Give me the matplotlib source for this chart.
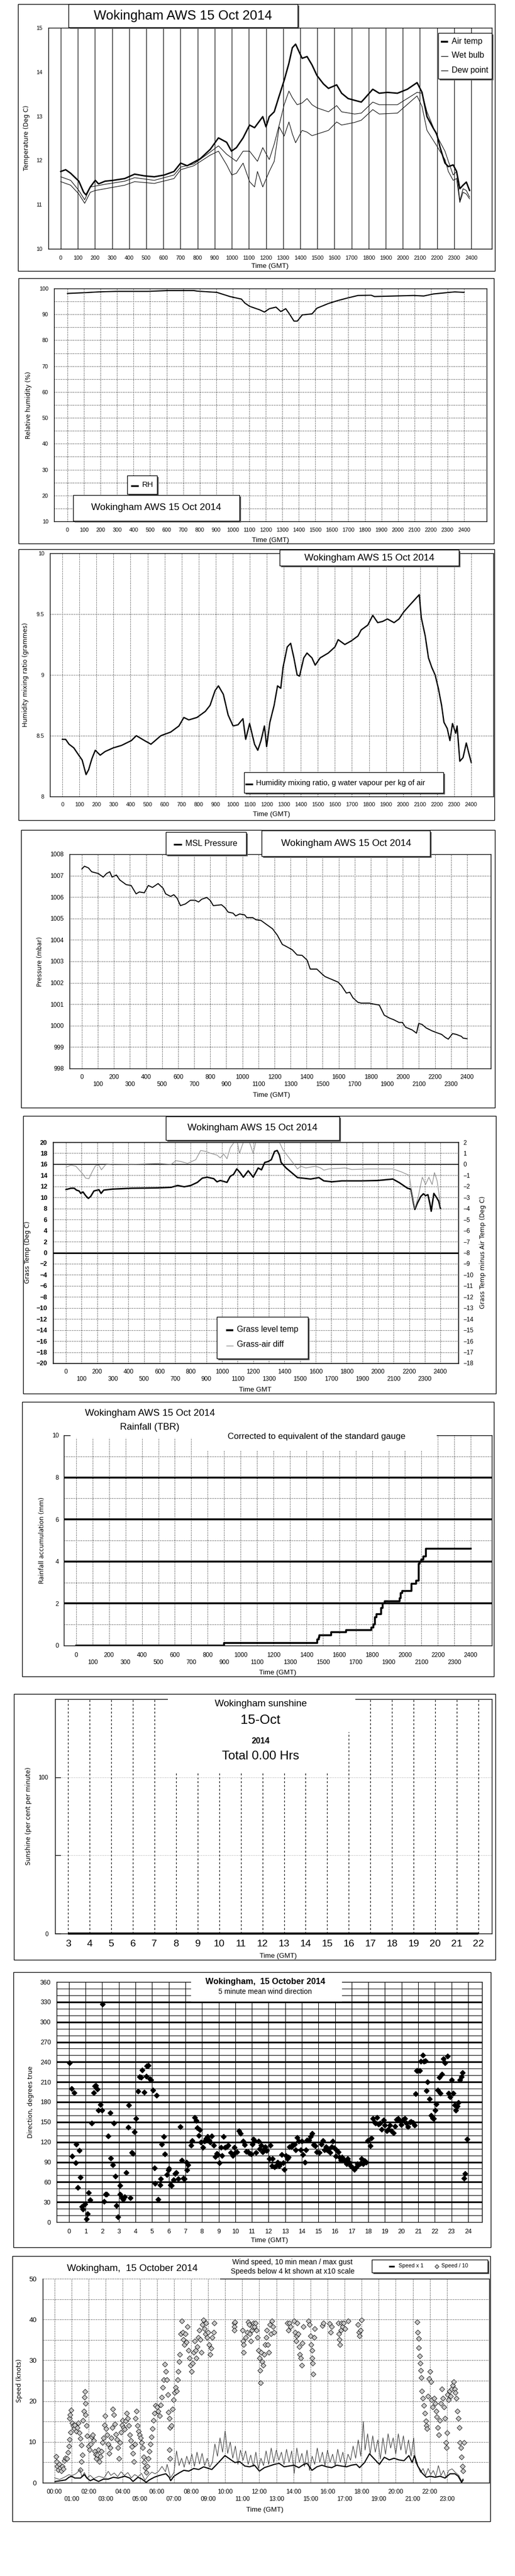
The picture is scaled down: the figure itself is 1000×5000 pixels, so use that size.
import matplotlib
matplotlib.use('Agg')
import matplotlib.pyplot as plt
from matplotlib.patches import Rectangle
from matplotlib.lines import Line2D

plt.rcParams['font.family'] = 'Liberation Sans'
plt.rcParams['axes.linewidth'] = 1.0

# ---------------- data ----------------
# panel 1 : temperatures (time in hhmm-like units 0..2400)
air_time = [0, 29, 58, 106, 134, 148, 173, 202, 221, 259, 307, 374, 432, 490, 547, 605, 662, 701, 739, 778,
            816, 874, 922, 970, 998, 1027, 1066, 1104, 1133, 1181, 1200, 1219, 1248, 1277, 1306, 1334, 1354, 1373, 1392, 1411,
            1440, 1469, 1498, 1536, 1565, 1613, 1642, 1680, 1718, 1757, 1776, 1824, 1862, 1910, 1968, 2026, 2083, 2112, 2141, 2179,
            2198, 2218, 2246, 2266, 2294, 2314, 2333, 2352, 2371, 2390]
air_temp = [11.75, 11.79, 11.71, 11.53, 11.28, 11.22, 11.4, 11.55, 11.47, 11.53, 11.55, 11.59, 11.69, 11.65, 11.63, 11.67, 11.75, 11.94, 11.88, 11.96,
            12.04, 12.25, 12.51, 12.41, 12.21, 12.29, 12.51, 12.8, 12.74, 12.99, 12.76, 12.99, 13.1, 13.46, 13.81, 14.2, 14.55, 14.63, 14.47, 14.31,
            14.35, 14.16, 13.92, 13.73, 13.63, 13.71, 13.52, 13.4, 13.36, 13.32, 13.4, 13.61, 13.52, 13.54, 13.52, 13.61, 13.76, 13.54, 12.99, 12.72,
            12.6, 12.29, 11.94, 11.86, 11.9, 11.75, 11.36, 11.44, 11.51, 11.32]
wet_time = [0, 58, 106, 140, 173, 202, 259, 374, 432, 547, 662, 701, 778, 874, 922, 970, 1027, 1066, 1104, 1150,
            1181, 1219, 1248, 1277, 1306, 1334, 1354, 1382, 1411, 1440, 1469, 1498, 1565, 1613, 1642, 1718, 1757, 1824, 1862, 1968,
            2083, 2112, 2141, 2198, 2246, 2266, 2294, 2314, 2333, 2352, 2371, 2390]
wet_temp = [11.63, 11.55, 11.32, 11.11, 11.4, 11.42, 11.46, 11.53, 11.61, 11.55, 11.67, 11.85, 11.92, 12.19, 12.33, 12.14, 11.98, 12.21, 12.21, 11.98,
            12.29, 12.02, 12.37, 12.8, 13.26, 13.57, 13.42, 13.26, 13.3, 13.4, 13.26, 13.19, 13.1, 13.24, 13.1, 13.05, 13.07, 13.32, 13.26, 13.26,
            13.54, 13.52, 13.1, 12.56, 12.21, 11.98, 11.67, 11.75, 11.09, 11.36, 11.32, 11.17]
dew_time = [0, 58, 106, 140, 173, 202, 259, 374, 432, 547, 662, 701, 778, 874, 922, 970, 1000, 1027, 1066, 1104,
            1133, 1150, 1181, 1219, 1248, 1277, 1306, 1334, 1354, 1373, 1411, 1440, 1469, 1565, 1613, 1642, 1718, 1757, 1824, 1862,
            1968, 2083, 2112, 2141, 2198, 2246, 2266, 2294, 2314, 2333, 2352, 2371, 2390]
dew_temp = [11.52, 11.44, 11.24, 11.03, 11.28, 11.32, 11.36, 11.44, 11.52, 11.48, 11.59, 11.79, 11.88, 12.12, 12.21, 11.9, 11.67, 11.71, 11.94, 11.52,
            11.4, 11.75, 11.4, 11.75, 11.98, 12.76, 12.55, 12.87, 12.6, 12.4, 12.68, 12.64, 12.56, 12.68, 12.87, 12.8, 12.86, 12.91, 13.15, 13.05,
            13.07, 13.46, 13.22, 12.68, 12.33, 12.02, 11.75, 11.55, 11.59, 11.05, 11.28, 11.24, 11.13]

# panel 2 : relative humidity
rh_time = [0, 109, 189, 298, 487, 606, 765, 785, 904, 944, 983, 1053, 1073, 1103, 1162, 1192, 1222, 1262, 1291, 1321,
           1341, 1371, 1391, 1421, 1480, 1510, 1579, 1639, 1699, 1758, 1838, 1858, 1977, 2096, 2156, 2215, 2295, 2344, 2400]
rh = [98.1, 98.4, 98.7, 98.9, 98.9, 99.2, 99.2, 99.0, 98.5, 97.7, 96.9, 95.9, 94.4, 93.1, 91.8, 90.9, 92.2, 92.8, 91.1, 92.2,
      90.4, 87.4, 87.4, 89.8, 90.2, 92.4, 94.2, 95.4, 96.4, 97.3, 97.4, 96.9, 97.1, 97.3, 97.1, 97.9, 98.4, 98.7, 98.5]

# panel 3 : humidity mixing ratio
mix_time = [0, 19, 39, 67, 96, 116, 139, 154, 173, 193, 222, 251, 299, 347, 405, 434, 482, 520, 578, 636,
            684, 713, 742, 790, 839, 867, 896, 916, 945, 973, 1002, 1031, 1060, 1076, 1099, 1128, 1147, 1166, 1186, 1199,
            1218, 1243, 1263, 1282, 1295, 1320, 1340, 1359, 1378, 1392, 1417, 1436, 1465, 1484, 1513, 1561, 1600, 1619, 1658, 1696,
            1735, 1754, 1793, 1822, 1851, 1880, 1908, 1947, 1976, 2005, 2043, 2082, 2095, 2107, 2130, 2149, 2169, 2188, 2207, 2226,
            2240, 2259, 2275, 2290, 2309, 2317, 2333, 2352, 2371, 2387, 2400]
mix = [8.47, 8.47, 8.43, 8.40, 8.34, 8.30, 8.18, 8.22, 8.31, 8.38, 8.34, 8.37, 8.40, 8.42, 8.46, 8.50, 8.46, 8.43, 8.50, 8.53,
       8.58, 8.65, 8.63, 8.65, 8.70, 8.75, 8.87, 8.91, 8.84, 8.67, 8.58, 8.59, 8.64, 8.47, 8.60, 8.43, 8.38, 8.46, 8.58, 8.41,
       8.61, 8.75, 8.91, 8.89, 9.06, 9.23, 9.26, 9.14, 9.00, 8.99, 9.14, 9.18, 9.14, 9.08, 9.14, 9.18, 9.23, 9.29, 9.25, 9.28,
       9.32, 9.37, 9.41, 9.49, 9.43, 9.44, 9.46, 9.43, 9.46, 9.52, 9.58, 9.64, 9.66, 9.47, 9.32, 9.14, 9.06, 9.00, 8.89, 8.75,
       8.61, 8.56, 8.46, 8.60, 8.52, 8.58, 8.29, 8.32, 8.44, 8.35, 8.28]

# panel 4 : MSL pressure
pres_time = [0, 16, 41, 61, 102, 133, 154, 174, 188, 215, 236, 276, 307, 338, 358, 389, 414, 440, 475, 506,
             522, 553, 573, 594, 614, 645, 676, 706, 727, 747, 778, 799, 819, 870, 891, 911, 942, 958, 983, 1014,
             1028, 1065, 1085, 1116, 1147, 1188, 1218, 1249, 1270, 1311, 1341, 1372, 1403, 1423, 1464, 1495, 1515, 1556, 1597, 1618,
             1648, 1669, 1689, 1720, 1741, 1792, 1823, 1853, 1884, 1915, 1945, 1976, 1997, 2017, 2058, 2085, 2099, 2119, 2146, 2181,
             2212, 2242, 2263, 2283, 2310, 2334, 2365, 2375, 2400]
pres = [1007.31, 1007.44, 1007.36, 1007.18, 1007.10, 1006.93, 1007.10, 1007.18, 1006.93, 1007.03,
        1006.80, 1006.58, 1006.54, 1006.15, 1006.24, 1006.20, 1006.54, 1006.45, 1006.63, 1006.41,
        1006.15, 1006.03, 1006.11, 1005.94, 1005.60, 1005.68, 1005.85, 1005.85, 1005.77, 1005.90,
        1005.98, 1005.85, 1005.60, 1005.64, 1005.51, 1005.30, 1005.25, 1005.12, 1005.21, 1005.17,
        1005.04, 1005.04, 1004.94, 1004.91, 1004.74, 1004.52, 1004.22, 1003.79, 1003.71, 1003.54,
        1003.30, 1003.28, 1003.06, 1002.64, 1002.64, 1002.42, 1002.29, 1002.16, 1002.03, 1001.86,
        1001.52, 1001.56, 1001.30, 1001.09, 1001.05, 1001.05, 1001.00, 1000.96, 1000.49, 1000.36,
        1000.27, 1000.15, 1000.15, 999.93, 999.80, 999.65, 1000.10, 1000.06, 999.89, 999.76,
        999.67, 999.59, 999.46, 999.37, 999.63, 999.59, 999.50, 999.42, 999.39]

# panel 5 : grass temperature and grass-air difference
grass_time = [0, 32, 53, 67, 84, 95, 109, 126, 143, 158, 179, 211, 225, 242, 295, 421, 589, 674, 716, 758,
              800, 842, 874, 905, 947, 968, 989, 1032, 1053, 1074, 1095, 1116, 1137, 1168, 1200, 1232, 1253, 1274, 1295, 1316,
              1337, 1354, 1368, 1379, 1411, 1453, 1484, 1516, 1568, 1621, 1653, 1705, 1768, 1811, 1895, 2000, 2095, 2137, 2189, 2211,
              2227, 2236, 2253, 2274, 2291, 2305, 2320, 2333, 2341, 2358, 2375, 2389, 2400]
grass = [11.43, 11.67, 11.67, 11.33, 11.17, 10.73, 11.0, 10.33, 9.83, 10.17, 11.17, 11.4, 10.73, 11.33, 11.5, 11.67, 11.73, 11.83, 12.17, 11.93,
         12.17, 12.73, 13.5, 13.67, 13.4, 12.83, 13.07, 12.73, 13.83, 14.17, 15.17, 14.5, 13.67, 14.83, 13.67, 15.33, 15.0, 16.33, 16.5, 16.83,
         18.33, 18.5, 17.67, 16.33, 15.33, 14.33, 13.6, 13.5, 13.33, 13.6, 13.0, 12.83, 13.0, 13.0, 13.0, 13.07, 13.33, 12.67, 11.67, 11.5,
         9.0, 7.83, 9.0, 10.17, 10.67, 10.33, 10.5, 8.83, 7.5, 10.73, 10.0, 9.33, 8.0]
diff_time = [0, 32, 63, 84, 105, 126, 147, 168, 189, 211, 227, 253, 295, 421, 589, 674, 705, 737, 779, 832,
             863, 895, 926, 968, 989, 1011, 1032, 1053, 1078, 1091, 1112, 1137, 1168, 1200, 1221, 1242, 1284, 1337, 1368, 1390,
             1421, 1453, 1484, 1505, 1537, 1600, 1632, 1653, 1684, 1789, 1832, 1937, 2095, 2147, 2200, 2221, 2236, 2257, 2274, 2284,
             2305, 2326, 2347, 2362, 2379, 2389, 2400]
diff = [-0.25, -0.08, -0.17, -0.5, -0.83, -1.25, -1.3, -0.67, -0.13, -0.08, -0.5, -0.05, 0.03, 0.0, 0.08, 0.0, 0.33, 0.25, 0.08, 0.42,
        1.25, 1.17, 1.0, 0.83, 0.58, 0.92, 0.5, 1.5, 2.0, 2.5, 1.0, 2.0, 2.33, 1.0, 2.33, 2.0, 2.67, 2.8, 2.0, 1.33,
        0.75, 0.17, -0.42, -0.17, -0.33, -0.17, -0.33, -0.53, -0.42, -0.33, -0.47, -0.42, -0.42, -0.67, -1.0, -3.0, -4.0, -3.0, -1.83, -1.17,
        -1.83, -1.17, -1.83, -0.75, -1.5, -2.5, -3.83]

# panel 6 : rainfall accumulation
rain_time = [0, 900, 1466, 1474, 1480, 1550, 1640, 1796, 1806, 1816, 1826, 1856, 1864, 1876, 1966, 1974, 1984, 2040, 2066, 2084,
             2090, 2100, 2112, 2126, 2400]
rain_mm = [0, 0.12, 0.3, 0.4, 0.5, 0.63, 0.74, 0.85, 1.0, 1.35, 1.5, 1.8, 2.0, 2.1, 2.25, 2.5, 2.6, 2.95, 3.1, 3.9,
           4.0, 4.1, 4.25, 4.6, 4.6]

# panel 7 : sunshine (none recorded)
sun_hour = [3, 22]
sun_pct = [0, 0]

# panel 8 : 5 minute mean wind direction
dir_hour = [0.04, 0.16, 0.30, 0.20, 0.40, 0.45, 0.63, 0.69, 0.53, 0.79,
            0.85, 0.95, 1.05, 1.11, 1.19, 1.28, 1.38, 1.48, 1.54, 1.62,
            1.70, 1.78, 1.88, 1.98, 2.03, 2.11, 2.21, 2.27, 2.37, 2.47,
            2.51, 2.63, 2.71, 2.79, 2.86, 2.96, 3.06, 3.08, 3.20, 3.26,
            3.34, 3.44, 3.56, 3.60, 3.69, 3.79, 3.85, 3.95, 4.03, 4.15,
            4.25, 4.35, 4.40, 4.54, 4.64, 4.68, 4.78, 4.88, 4.94, 5.04,
            5.14, 5.18, 5.27, 5.37, 5.47, 5.53, 5.59, 5.69, 5.77, 5.89,
            5.97, 6.02, 6.10, 6.16, 6.28, 6.38, 6.46, 6.56, 6.70, 6.80,
            6.87, 6.95, 7.07, 7.11, 7.17,
            7.35, 7.41, 7.55, 7.64, 7.70, 7.80, 7.88, 7.94, 8.04, 8.14,
            8.24, 8.34, 8.43, 8.49, 8.59, 8.69, 8.79, 8.89, 8.95, 9.05,
            9.13, 9.19, 9.28, 9.38, 9.48, 9.58, 9.72, 9.84, 9.94, 10.01,
            10.11, 10.23, 10.33, 10.47, 10.57, 10.67, 10.77, 10.86, 10.96, 11.02,
            11.10, 11.16, 11.26, 11.40, 11.46, 11.56, 11.65, 11.71, 11.79, 11.85,
            11.91, 12.05, 12.11, 12.19, 12.25, 12.35, 12.44, 12.54, 12.64, 12.70,
            12.78, 12.88, 12.94, 13.04, 13.14, 13.20, 13.27, 13.37, 13.47, 13.57,
            13.63, 13.73, 13.83, 13.93, 14.00, 14.06, 14.18, 14.26, 14.32, 14.42,
            14.52, 14.62, 14.72, 14.81, 14.91, 15.05, 15.17, 15.26, 15.35, 15.45,
            15.53, 15.60, 15.70, 15.80, 15.86, 15.94, 16.04, 16.12, 16.20, 16.26,
            16.36, 16.43, 16.49, 16.59, 16.69, 16.75, 16.85, 16.93, 17.03, 17.15,
            17.24, 17.34, 17.42, 17.52, 17.58, 17.68, 17.78, 17.88, 17.98, 18.11,
            18.17, 18.27, 18.37, 18.43, 18.51, 18.61, 18.71, 18.81, 18.92, 19.00,
            19.10, 19.20, 19.30, 19.40, 19.50, 19.60, 19.70, 19.80, 19.89, 19.99,
            20.09, 20.19, 20.29, 20.39, 20.50, 20.58, 20.68, 20.78, 20.84, 20.90,
            20.98, 21.08, 21.17, 21.27, 21.33, 21.43, 21.49, 21.57, 21.68, 21.77,
            21.87, 21.93, 22.02, 22.08, 22.18, 22.27, 22.32, 22.42, 22.52, 22.62,
            22.77, 22.84, 22.91, 23.01, 23.11, 23.19, 23.27, 23.34, 23.41, 23.51,
            23.60, 23.66, 23.76, 23.82, 23.94]
dir_deg = [239, 200, 194, 99, 89, 117, 107, 67, 52, 23,
           19.5, 27, 5, 12.5, 44, 33, 148, 194, 204, 205,
           199, 168, 176, 168, 327, 31, 42, 42, 129, 164,
           96, 86, 148, 69, 25, 8, 55, 41.5, 36, 34,
           38, 74, 142, 175, 36, 104, 103, 135, 155, 196,
           218, 217, 228, 195, 219, 234, 235, 215, 213, 198,
           81, 58, 190, 34, 56, 65, 117, 128, 102, 71,
           78, 80, 56, 55, 63, 73, 74, 65, 143, 93,
           66, 65, 90, 78, 86,
           115, 122, 157, 152, 141, 130, 138, 120, 112, 121,
           125, 128, 123, 120, 129, 115, 98, 103, 101, 89,
           112, 100, 128, 112, 113, 115, 104, 100, 112, 104,
           105, 137, 133, 121, 116, 106, 105, 103, 102, 117,
           124, 122, 104, 121, 110, 115, 105, 109, 113, 107,
           107, 95, 115, 84, 95, 83, 84, 90, 84, 87,
           101, 89, 79, 100, 95, 97, 113, 113, 117, 117,
           108, 127, 121, 108, 121, 101, 90, 108, 123, 123,
           128, 133, 116, 114, 105, 104, 117, 122, 108, 113,
           108, 110, 104, 113, 121, 111, 99, 107, 105, 97,
           93, 97, 95, 91, 87, 95, 90, 84, 82, 79,
           82, 87, 86, 88, 95, 87, 92, 90, 122, 114,
           126, 155, 150, 148, 157, 147, 148, 139, 153, 145,
           137, 139, 145, 137, 134, 144, 154, 155, 152, 146,
           154, 155, 148, 143, 150, 151, 149, 145, 192, 227,
           227, 227, 241, 250, 241, 242, 197, 210, 185, 160,
           156, 155, 168, 177, 198, 217, 193, 222, 245, 239,
           249, 193, 188, 213, 193, 175, 168, 174, 179, 213,
           218, 224, 66, 73, 124]

# panel 9 : wind speed (10 min mean, max gust, low speeds x10)
mean_hour = [0.03, 0.37, 0.65, 0.85, 1.0, 1.19, 1.52, 1.75, 1.9, 2.1,
             2.29, 2.58, 2.87, 3.16, 3.45, 3.73, 4.12, 4.41, 4.6, 4.89,
             5.12, 5.37, 5.56, 5.85, 6.04, 6.33, 6.53, 6.72, 6.81, 7.0,
             7.3, 7.58, 7.87, 8.16, 8.45, 8.74, 9.03, 9.22, 9.51, 9.99,
             10.28, 10.57, 10.86, 11.15, 11.43, 11.72, 12.01, 12.3, 12.59, 12.88,
             13.17, 13.46, 13.74, 14.03, 14.32, 14.61, 14.8, 15.09, 15.38, 15.67,
             15.96, 16.25, 16.54, 16.82, 17.11, 17.4, 17.69, 17.88, 18.17, 18.46,
             18.75, 19.04, 19.33, 19.62, 19.9, 20.19, 20.48, 20.77, 20.96, 21.1,
             21.29, 21.54, 21.79, 22.02, 22.31, 22.6, 22.89, 23.18, 23.47, 23.66,
             23.86, 23.95]
mean_kt = [0.3, 0.5, 0.7, 1.35, 1.6, 1.15, 1.15, 2.0, 1.15, 0.5,
           0.9, 0.3, 0.9, 0.9, 1.35, 1.15, 1.6, 1.15, 0.3, 1.35,
           0.9, 0.1, 0.7, 1.35, 1.65, 2.0, 2.2, 1.35, 0.5, 1.6,
           2.4, 3.05, 2.85, 3.5, 3.25, 3.9, 3.5, 3.25, 4.5, 6.65,
           5.8, 4.95, 5.15, 4.1, 3.9, 4.3, 2.85, 3.7, 4.1, 4.5,
           4.75, 3.9, 4.1, 4.3, 3.7, 4.5, 4.75, 3.05, 3.9, 4.3,
           3.9, 3.7, 4.3, 4.1, 3.9, 4.3, 4.5, 3.7, 4.95, 7.1,
           5.8, 4.5, 6.25, 5.6, 6.0, 5.6, 5.4, 6.65, 4.95, 6.65,
           4.1, 2.4, 1.35, 1.6, 1.35, 1.6, 1.15, 2.2, 2.2, 1.6,
           0.1, 0.7]
gust_hour = [0.0, 0.3, 0.6, 0.85, 1.0, 1.25, 1.5, 1.6, 1.75, 1.9,
             2.1, 2.3, 2.6, 2.9, 3.15, 3.3, 3.5, 3.7, 3.9, 4.1,
             4.3, 4.5, 4.7, 4.9, 5.1, 5.3, 5.5, 5.7, 5.9, 6.1,
             6.3, 6.5, 6.6, 6.8, 7.0, 7.15, 7.3, 7.45, 7.6, 7.75,
             7.9, 8.05, 8.2, 8.35, 8.5, 8.65, 8.8, 8.95, 9.1, 9.25,
             9.4, 9.55, 9.7, 9.85, 10.0, 10.15, 10.3, 10.45, 10.6, 10.75,
             10.9, 11.05, 11.2, 11.35, 11.5, 11.65, 11.8, 11.95, 12.1, 12.25,
             12.4, 12.55, 12.7, 12.85, 13.0, 13.15, 13.3, 13.45, 13.6, 13.75,
             13.9, 14.05, 14.2, 14.35, 14.5, 14.65, 14.8, 14.95, 15.1, 15.25,
             15.4, 15.55, 15.7, 15.85, 16.0, 16.15, 16.3, 16.45, 16.6, 16.75,
             16.9, 17.05, 17.2, 17.35, 17.5, 17.65, 17.8, 17.95, 18.1, 18.2,
             18.35, 18.5, 18.65, 18.8, 18.95, 19.1, 19.25, 19.4, 19.55, 19.7,
             19.85, 20.0, 20.15, 20.3, 20.45, 20.6, 20.75, 20.9, 21.05, 21.15,
             21.3, 21.45, 21.6, 21.75, 21.9, 22.05, 22.2, 22.35, 22.5, 22.65,
             22.8, 22.95, 23.1, 23.3, 23.5, 23.7, 23.85, 23.95]
gust_kt = [1.2, 0.8, 1.4, 2.0, 1.7, 2.2, 3.2, 1.5, 2.5, 1.2,
           1.8, 1.0, 1.6, 1.2, 2.8, 1.8, 2.4, 1.5, 2.7, 1.8,
           2.5, 1.2, 2.0, 1.5, 2.3, 0.6, 1.8, 2.6, 2.2, 2.8,
           4.0, 2.7, 4.5, 1.2, 2.5, 7.8, 4.2, 6.0, 3.8, 6.5,
           4.5, 7.0, 4.0, 7.5, 4.6, 7.2, 4.2, 6.0, 3.8, 5.0,
           9.5, 6.5, 11.0, 7.5, 12.7, 7.2, 10.0, 6.0, 9.0, 4.5,
           8.0, 5.5, 7.8, 4.5, 6.8, 4.0, 7.5, 3.5, 6.0, 4.2,
           7.8, 4.5, 8.5, 5.0, 8.0, 5.5, 7.5, 4.5, 8.2, 5.0,
           7.8, 2.3, 8.5, 5.0, 7.2, 4.0, 8.0, 3.0, 6.5, 4.5,
           8.5, 5.0, 7.5, 4.2, 8.0, 5.0, 7.0, 4.2, 8.2, 5.0,
           7.5, 4.0, 7.0, 5.5, 9.0, 6.0, 10.5, 6.5, 15.0, 8.0,
           12.0, 7.0, 11.5, 7.5, 10.5, 5.8, 11.0, 7.0, 12.0, 8.5,
           11.0, 7.0, 12.0, 8.0, 11.5, 7.0, 10.5, 6.5, 11.0, 5.0,
           4.0, 2.5, 3.5, 1.8, 3.5, 2.0, 3.0, 1.5, 4.2, 1.8,
           3.0, 1.2, 3.0, 3.4, 2.5, 1.8, 0.5, 1.0]
sp10_hour = [0.08, 0.12, 0.17, 0.23, 0.27, 0.33, 0.40, 0.46, 0.52, 0.58,
             0.65, 0.73, 0.79, 0.85, 0.89, 0.94, 0.89, 0.92, 0.96, 1.02,
             1.08, 1.14, 1.19, 1.27, 1.33, 1.39, 1.44, 1.50, 1.56, 1.62,
             1.52, 1.58, 1.67, 1.71, 1.75, 1.79, 1.83, 1.81, 1.87, 1.92,
             2.00, 2.06, 2.12, 2.18, 2.23, 2.29, 2.35, 2.41, 2.46, 2.52,
             2.58, 2.64, 2.69, 2.75, 2.81, 2.87, 2.93, 2.96, 3.02, 3.08,
             3.14, 3.20, 3.25, 3.31, 3.37, 3.43, 3.48, 3.54, 3.60, 3.66,
             3.72, 3.77, 3.83, 3.89, 3.95, 4.00, 4.06, 4.12, 4.18, 4.23,
             4.29, 4.35, 4.41, 4.47, 4.52, 4.58, 4.64, 4.70, 4.75, 4.81,
             4.87, 4.93, 4.99, 5.04, 5.10, 5.16, 5.22, 5.27, 5.33, 5.39,
             5.45, 5.51, 5.56, 5.62, 5.68, 5.74, 5.79, 5.85, 5.93, 6.01,
             6.08, 6.16, 6.22, 6.28, 6.33, 6.39, 6.47, 6.53, 6.58, 6.64,
             6.68, 6.74, 6.78, 6.74, 6.78, 6.85, 6.91, 6.97, 7.03, 7.10,
             7.16, 7.22, 7.26, 7.31, 7.35, 7.39, 7.45, 7.51, 7.56, 7.62,
             7.68, 7.74, 7.80, 7.85, 7.91, 7.97, 8.03, 8.08, 8.14, 8.20,
             8.26, 8.32, 8.37, 8.43, 8.49, 8.55, 8.60, 8.66, 8.72, 8.78,
             8.84, 8.89, 8.95, 9.01, 9.07, 9.12, 9.18, 9.24, 9.32, 9.37,
             10.53, 10.53, 10.55, 10.57, 11.01, 11.05, 11.09, 11.07, 11.20, 11.28,
             11.34, 11.40, 11.43, 11.49, 11.55, 11.61, 11.67, 11.72, 11.78, 11.84,
             11.90, 11.95, 12.01, 12.05, 12.07, 12.11, 12.17, 12.22, 12.28, 12.34,
             12.40, 12.45, 12.51, 12.57, 12.63, 12.69, 12.74, 12.80, 12.86, 13.65,
             13.71, 13.78, 13.84, 14.03, 14.09, 14.15, 14.19, 14.23, 14.28, 14.34,
             14.38, 14.44, 14.48, 14.51, 14.57, 14.90, 14.96, 15.01, 15.05, 15.09,
             15.11, 15.13, 15.15, 15.21, 15.25, 15.71, 15.77, 16.11, 16.17, 16.25,
             16.63, 16.67, 16.71, 16.73, 16.79, 16.82, 16.88, 16.94, 17.02, 17.21,
             17.79, 17.84, 17.88, 17.92, 17.98, 21.25, 21.29, 21.33, 21.35, 21.39,
             21.43, 21.47, 21.50, 21.54, 21.60, 21.66, 21.72, 21.76, 21.79, 21.83,
             21.89, 21.95, 22.00, 22.06, 22.11, 22.17, 22.24, 22.30, 22.36, 22.41,
             22.46, 22.53, 22.58, 22.64, 22.69, 22.75, 22.81, 22.87, 22.93, 22.97,
             22.99, 23.04, 23.10, 23.16, 23.22, 23.27, 23.33, 23.39, 23.45, 23.50,
             23.56, 23.62, 23.68, 23.72, 23.76, 23.82, 23.86, 23.90, 23.95, 24.00]
sp10_val = [6.5, 5.2, 4.05, 3.2, 4.5, 3.6, 2.9, 4.05, 3.4, 5.4,
            6.1, 5.9, 7.4, 9.0, 10.6, 12.4, 15.8, 16.7, 17.8, 14.6,
            14.0, 13.3, 14.2, 12.6, 13.5, 14.6, 12.2, 10.8, 9.2, 6.8,
            3.2, 5.2, 15.3, 17.6, 20.9, 22.3, 19.4, 16.7, 14.0, 11.5,
            9.0, 8.1, 9.5, 11.3, 11.7, 10.4, 7.7, 7.0, 5.9, 6.8,
            8.1, 5.2, 6.5, 7.7, 9.9, 11.0, 14.2, 16.4, 13.3, 11.7,
            9.5, 7.2, 8.6, 11.0, 13.5, 18.0, 16.7, 14.4, 11.9, 10.6,
            8.6, 5.9, 9.9, 12.4, 14.2, 15.3, 13.5, 13.1, 15.1, 17.1,
            15.8, 14.0, 11.7, 10.4, 8.8, 7.2, 5.2, 9.5, 15.8, 17.6,
            14.0, 12.6, 11.7, 11.0, 9.9, 8.6, 6.3, 5.0, 3.6, 2.5,
            4.05, 5.9, 7.7, 9.5, 11.3, 13.3, 15.3, 17.1, 18.9, 18.5,
            17.6, 16.4, 19.1, 20.9, 23.4, 25.2, 29.1, 27.3, 25.2, 21.6,
            17.3, 15.8, 13.5, 8.1, 5.9, 14.0, 18.0, 20.3, 22.1, 23.4,
            22.5, 25.2, 27.3, 29.7, 31.5, 36.5, 39.6, 36.9, 35.1, 33.8,
            36.5, 34.5, 38.3, 32.4, 30.6, 28.8, 27.3, 29.3, 32.0, 34.7,
            32.4, 30.6, 33.3, 35.6, 37.4, 35.1, 32.0, 38.7, 39.9, 37.8,
            36.5, 39.2, 35.6, 36.9, 33.8, 31.5, 32.9, 35.6, 36.9, 39.2,
            39.2, 38.3, 37.4, 39.4, 37.4, 34.7, 33.8, 32.0, 35.6, 36.9,
            39.4, 38.7, 36.5, 34.7, 37.4, 38.3, 39.2, 38.3, 39.2, 37.4,
            35.6, 32.4, 30.6, 27.5, 24.5, 32.0, 29.7, 28.8, 31.5, 33.8,
            35.6, 37.4, 33.8, 32.0, 38.7, 36.5, 39.6, 38.3, 36.9, 39.2,
            37.4, 39.2, 38.3, 39.6, 36.9, 34.7, 36.0, 39.2, 36.5, 33.3,
            31.5, 30.6, 28.8, 34.2, 38.3, 39.6, 38.7, 36.0, 33.8, 32.4,
            30.6, 29.3, 26.6, 35.6, 37.8, 38.5, 39.2, 39.0, 36.9, 38.3,
            39.2, 36.5, 35.1, 33.8, 37.4, 39.2, 38.3, 39.2, 37.8, 39.6,
            38.7, 36.9, 36.0, 37.4, 39.9, 39.4, 36.9, 35.4, 33.1, 31.1,
            29.3, 27.5, 25.7, 22.5, 20.7, 18.9, 17.1, 15.1, 14.0, 13.3,
            21.2, 25.5, 27.3, 24.8, 20.3, 18.5, 20.7, 19.4, 17.6, 16.2,
            13.5, 11.7, 15.3, 19.4, 23.0, 20.7, 18.5, 15.8, 9.9, 8.6,
            12.2, 21.6, 20.3, 22.5, 21.2, 23.0, 23.9, 24.8, 23.0, 22.1,
            20.7, 17.6, 15.8, 13.5, 9.9, 8.6, 6.3, 4.05, 2.9, 9.9]

TITLE = 'Wokingham AWS 15 Oct 2014'

# ---------------- figure helpers (pixel layout) ----------------
W, H = 1000, 5000
fig = plt.figure(figsize=(W / 100, H / 100), dpi=100)
fig.patch.set_facecolor('white')
DOT = (0, (1, 2))


def fx(x):
    return x / W


def fy(y):
    return 1 - y / H


def add_ax(x0, y0, x1, y1):
    return fig.add_axes([fx(x0), fy(y1), (x1 - x0) / W, (y1 - y0) / H])


def box(x0, y0, x1, y1, shadow=False, fill='white', lw=1.0):
    w, h = (x1 - x0) / W, (y1 - y0) / H
    if shadow:
        fig.add_artist(Rectangle((fx(x0 + 3), fy(y1 + 3)), w, h, transform=fig.transFigure,
                                 facecolor='#5a5a5a', edgecolor='none', zorder=5))
    fig.add_artist(Rectangle((fx(x0), fy(y1)), w, h, transform=fig.transFigure, facecolor=fill,
                             edgecolor='black' if lw else 'none', lw=lw, zorder=5.5))


def ftext(x, y, s, size, ha='center', **kw):
    fig.text(fx(x), fy(y), s, fontsize=size, ha=ha, va='center', zorder=10, **kw)


def ylab(x, y, s):
    ftext(x, y, s, 8.7, rotation=90, fontfamily='DejaVu Sans')


def lline(x0, x1, y, lw, color='black'):
    fig.add_artist(Line2D([fx(x0), fx(x1)], [fy(y), fy(y)], transform=fig.transFigure,
                          color=color, lw=lw, zorder=10, solid_capstyle='butt'))


def style(ax, size, xpad, ypad):
    ax.tick_params(length=0, labelsize=size)
    ax.tick_params(axis='x', pad=xpad)
    ax.tick_params(axis='y', pad=ypad)
    ax.set_axisbelow(True)


def two_rows(vals, fmt):
    return [fmt(v) if i % 2 == 0 else '\n' + fmt(v) for i, v in enumerate(vals)]


hund = list(range(0, 2401, 100))

# ---------------- panel 1 : temperature ----------------
ax = add_ax(94, 54, 955, 483)
ax.plot(dew_time, dew_temp, color='black', lw=0.8)
ax.plot(wet_time, wet_temp, color='black', lw=0.8)
ax.plot(air_time, air_temp, color='black', lw=2.0)
ax.set_xlim(-72, 2520)
ax.set_ylim(10, 15)
ax.set_xticks(hund)
ax.set_yticks(range(10, 16))
ax.set_yticks([11, 12, 13, 14], minor=True)
ax.grid(axis='x', color='black', lw=0.8)
ax.grid(axis='y', which='minor', color='black', lw=2.6)
style(ax, 7.8, 9.1, 8.6)
ax.tick_params(which='minor', length=0)
box(133, 8, 578, 53, shadow=True)
ftext(355, 31, TITLE, 18.5)
box(851, 64, 955, 153, shadow=True)
for yy, lab, lw in [(81, 'Air temp', 2.6), (109, 'Wet bulb', 0.9), (137, 'Dew point', 0.9)]:
    lline(856, 870, yy, lw)
    ftext(877, yy - 1, lab, 11.5, ha='left')
ylab(51, 268, 'Temperature (Deg C)')
ftext(524, 517, 'Time (GMT)', 9.7)
box(35, 8, 961, 526, fill='none')

# ---------------- panel 2 : relative humidity ----------------
ax = add_ax(105, 560, 945, 1012)
ax.plot(rh_time, rh, color='black', lw=1.6)
ax.set_xlim(-81, 2537)
ax.set_ylim(10, 100)
ax.set_xticks(hund)
ax.set_yticks(range(10, 101, 10))
ax.set_yticks(range(15, 100, 10), minor=True)
ax.grid(which='both', color='black', ls=DOT, lw=0.8)
style(ax, 7.8, 8.4, 8.0)
ax.tick_params(which='minor', length=0)
box(247, 923, 305, 959, shadow=True)
lline(254, 269, 943, 2.4)
ftext(276, 941, 'RH', 11, ha='left')
box(142, 961, 465, 1011, shadow=True)
ftext(303, 986, TITLE, 13.5)
ylab(56, 786, 'Relative humidity (%)')
ftext(525, 1049, 'Time (GMT)', 9.7)
box(36, 540, 959, 1055, fill='none')

# ---------------- panel 3 : mixing ratio ----------------
ax = add_ax(97, 1074, 958, 1546)
ax.plot(mix_time, mix, color='black', lw=1.8)
ax.set_xlim(-73, 2530)
ax.set_ylim(8, 10)
ax.set_xticks(hund)
ax.set_yticks([8, 8.5, 9, 9.5, 10])
ax.set_yticklabels(['8', '8.5', '9', '9.5', '10'])
ax.grid(color='black', ls=DOT, lw=0.8)
style(ax, 7.8, 7.7, 8.0)
box(543, 1067, 891, 1098, shadow=True)
ftext(717, 1083, TITLE, 13.5)
box(474, 1499, 861, 1539, shadow=True)
lline(476, 491, 1522, 2.4)
ftext(497, 1520, 'Humidity mixing ratio, g water vapour per kg of air', 10.7, ha='left')
ylab(50, 1310, 'Humidity mixing ratio (grammes)')
ftext(527, 1581, 'Time (GMT)', 9.7)
box(36, 1066, 960, 1592, fill='none')

# ---------------- panel 4 : pressure ----------------
ax = add_ax(135, 1658, 953, 2074)
ax.plot(pres_time, pres, color='black', lw=1.4)
ax.set_xlim(-77, 2548)
ax.set_ylim(998, 1008)
ax.set_xticks(hund)
ax.set_xticklabels(two_rows(hund, str), linespacing=1.25)
ax.set_yticks(range(998, 1009))
ax.grid(color='black', ls=DOT, lw=0.8)
style(ax, 8.6, 8.0, 8.0)
box(322, 1615, 478, 1659, shadow=True)
lline(337, 353, 1639, 2.4)
ftext(360, 1637, 'MSL Pressure', 11.5, ha='left')
box(508, 1612, 835, 1662, shadow=True)
ftext(672, 1637, TITLE, 13.5)
ylab(77, 1866, 'Pressure (mbar)')
ftext(527, 2126, 'Time (GMT)', 9.7)
box(41, 1611, 961, 2150, fill='none')

# ---------------- panel 5 : grass temperature ----------------
ax = add_ax(103, 2217, 890, 2646)
ax.axhline(16, color='black', lw=1.2, zorder=1.5)
ax.axhline(0, color='black', lw=2.2, zorder=1.5)
ax.plot(grass_time, grass, color='black', lw=2.0, zorder=3)
ax.set_xlim(-83, 2515)
ax.set_ylim(-20, 20)
ax.set_xticks(hund)
ax.set_xticklabels(two_rows(hund, str), linespacing=1.25)
ax.set_yticks(range(-20, 21, 2))
ax.grid(color='black', ls=DOT, lw=0.8)
style(ax, 8.6, 8.0, 8.0)
for t in ax.get_yticklabels():
    t.set_fontsize(9)
    t.set_fontweight('bold')
axr = ax.twinx()
axr.plot(diff_time, diff, color='#8c8c8c', lw=0.9)
axr.set_ylim(-18, 2)
axr.set_yticks(range(-18, 3))
axr.tick_params(length=0, labelsize=8.5, pad=6.5)
box(322, 2167, 659, 2213, shadow=True)
ftext(490, 2190, TITLE, 13.5)
box(421, 2556, 598, 2637, shadow=True)
lline(439, 453, 2582, 2.6)
ftext(460, 2580, 'Grass level temp', 11.4, ha='left')
lline(439, 453, 2612, 0.9, '#8c8c8c')
ftext(460, 2610, 'Grass-air diff', 11.4, ha='left')
ylab(54, 2431, 'Grass Temp (Deg C)')
ylab(937, 2431, 'Grass Temp minus Air Temp (Deg C)')
ftext(496, 2698, 'Time GMT', 9.7)
box(45, 2166, 963, 2705, fill='none')

# ---------------- panel 6 : rainfall ----------------
ax = add_ax(124, 2786, 955, 3194)
for v in (2, 4, 6, 8):
    ax.axhline(v, color='black', lw=2.6, zorder=1.5)
ax.plot(rain_time, rain_mm, color='black', lw=2.6, drawstyle='steps-post')
ax.set_xlim(-75, 2528)
ax.set_ylim(0, 10)
ax.set_xticks(hund)
ax.set_xticklabels(two_rows(hund, str), linespacing=1.25)
ax.set_yticks(range(0, 11, 2))
ax.set_yticks(range(1, 10, 2), minor=True)
ax.grid(which='both', color='black', ls=DOT, lw=0.8)
style(ax, 8.6, 9.4, 7.2)
ax.tick_params(which='minor', length=0)
box(137, 2775, 390, 2791, lw=0)
box(390, 2775, 848, 2815, lw=0)
ftext(291, 2743, TITLE, 13.5)
ftext(291, 2770, 'Rainfall (TBR)', 13.2)
ftext(615, 2788, 'Corrected to equivalent of the standard gauge', 12.2)
ylab(82, 2990, 'Rainfall accumulation (mm)')
ftext(539, 3247, 'Time (GMT)', 9.7)
box(43, 2721, 959, 3254, fill='none')

# ---------------- panel 7 : sunshine ----------------
ax = add_ax(107, 3298, 955, 3753)
ax.plot(sun_hour, sun_pct, color='black', lw=3, solid_capstyle='butt', clip_on=False)
ax.set_xlim(2.4, 22.62)
ax.set_ylim(0, 150)
ax.set_xticks(range(3, 23))
ax.set_yticks([0, 50, 100])
ax.set_yticklabels(['0', '', '100'])
ax.grid(axis='x', color='black', ls=(0, (3, 3)), lw=0.9)
ax.grid(axis='y', color='#999999', ls=DOT, lw=0.8)
style(ax, 8.3, 8.4, 9.4)
ax.tick_params(axis='x', labelsize=14)
ax.tick_params(axis='y', direction='in', length=8, width=1)
box(326, 3294, 690, 3362, lw=0)
box(341, 3294, 677, 3440, lw=0)
ftext(506, 3307, 'Wokingham sunshine', 13.5)
ftext(506, 3339, '15-Oct', 18.5)
ftext(506, 3380, '2014', 11.4, fontweight='bold')
ftext(506, 3409, 'Total 0.00 Hrs', 17.5)
ylab(56, 3525, 'Sunshine (per cent per minute)')
ftext(540, 3797, 'Time (GMT)', 9.7)
box(27, 3288, 962, 3804, fill='none')

# ---------------- panel 8 : wind direction ----------------
ax = add_ax(110, 3847, 936, 4313)
for v in range(30, 331, 30):
    ax.axhline(v, color='black', lw=2.4, zorder=1.5)
ax.plot(dir_hour, dir_deg, ls='none', marker='D', ms=5, color='black')
ax.set_xlim(-0.74, 24.84)
ax.set_ylim(0, 360)
ax.set_xticks(range(0, 25))
ax.set_yticks(range(0, 361, 30))
ax.set_yticks(range(10, 360, 10), minor=True)
ax.grid(axis='x', color='black', lw=0.8)
ax.grid(axis='y', which='minor', color='black', lw=0.8)
style(ax, 9, 9.2, 8.0)
ax.tick_params(which='minor', length=0)
box(371, 3840, 664, 3885, lw=0)
ftext(515, 3846, 'Wokingham,  15 October 2014', 11.8, fontweight='bold')
ftext(515, 3866, '5 minute mean wind direction', 10)
ylab(59, 4080, 'Direction, degrees true')
ftext(523, 4349, 'Time (GMT)', 9.7)
box(26, 3828, 953, 4362, fill='none')

# ---------------- panel 9 : wind speed ----------------
ax = add_ax(83, 4423, 950, 4819)
ax.plot(sp10_hour, sp10_val, ls='none', marker='D', ms=5.5, mfc='#c8c8c8', mec='black', mew=0.6)
ax.plot(gust_hour, gust_kt, color='#404040', lw=0.8)
ax.plot(mean_hour, mean_kt, color='black', lw=1.6)
ax.set_xlim(-0.69, 25.48)
ax.set_ylim(0, 50)
hours = list(range(0, 24))
ax.set_xticks(hours)
ax.set_xticklabels(two_rows(hours, lambda h: '%02d:00' % h), linespacing=1.25)
ax.set_yticks(range(0, 51, 10))
ax.set_yticks(range(5, 50, 10), minor=True)
ax.grid(which='both', color='black', ls=DOT, lw=0.8)
style(ax, 8.6, 8.7, 8.6)
ax.tick_params(axis='y', labelsize=9.5)
ax.tick_params(which='minor', length=0)
ax.spines['top'].set_visible(False)
lline(427, 950, 4423, 1.0)
ftext(257, 4403, 'Wokingham,  15 October 2014', 13.5)
ftext(568, 4391, 'Wind speed, 10 min mean / max gust', 10.2)
ftext(568, 4409, 'Speeds below 4 kt shown at x10 scale', 10.2)
box(722, 4386, 947, 4411, shadow=True)
lline(755, 766, 4399, 2.4)
ftext(774, 4398, 'Speed x 1', 7.7, ha='left')
fig.add_artist(Line2D([fx(848)], [fy(4399)], transform=fig.transFigure, ls='none', marker='D',
                      ms=4.5, mfc='#c8c8c8', mec='black', mew=0.6, zorder=10))
ftext(857, 4398, 'Speed / 10', 7.7, ha='left')
ylab(38, 4621, 'Speed (knots)')
ftext(514, 4872, 'Time (GMT)', 9.7)
box(24, 4379, 952, 4894, fill='none')

fig.savefig('out.png', dpi=100, facecolor='white')
